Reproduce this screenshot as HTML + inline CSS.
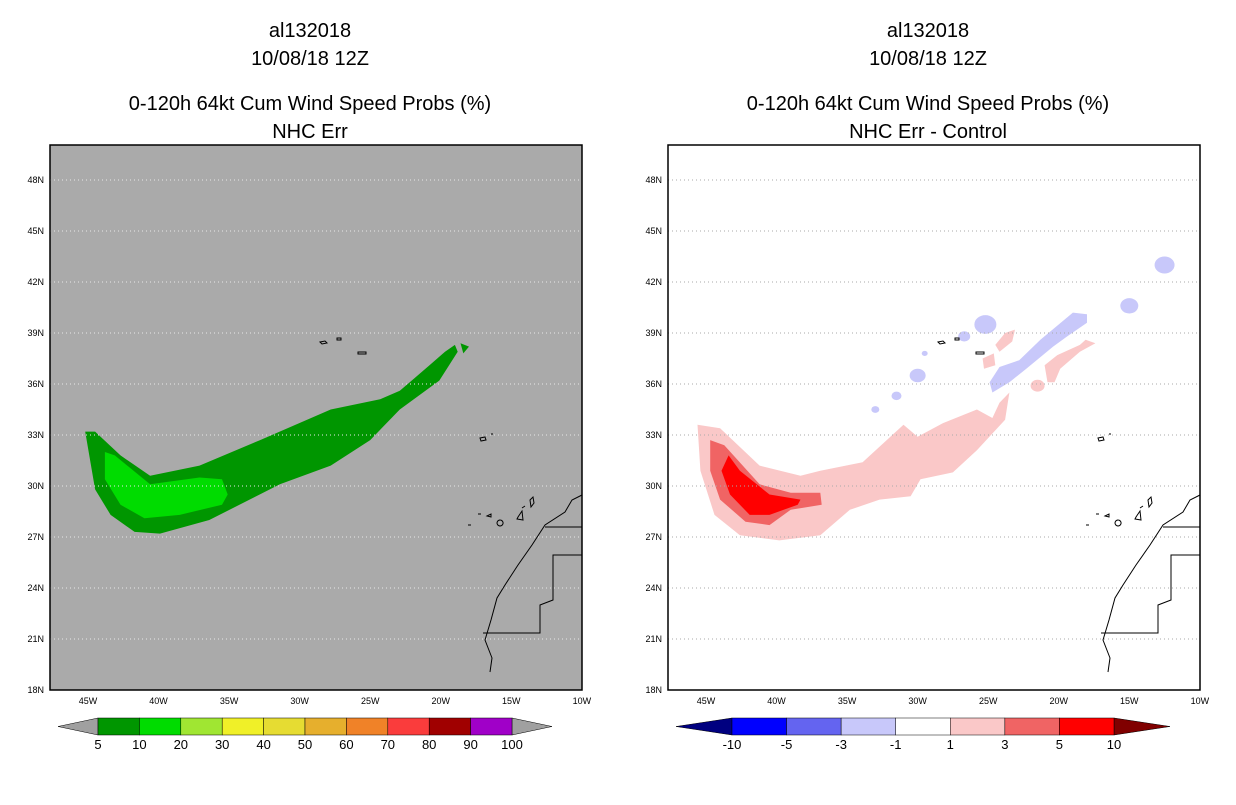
<!DOCTYPE html>
<html><head><meta charset="utf-8"><style>
body{margin:0;background:#fff;width:1236px;height:800px;overflow:hidden}
svg text{font-family:"Liberation Sans",sans-serif}
</style></head><body>
<svg id="s" width="1236" height="800" xmlns="http://www.w3.org/2000/svg">
<g font-size="20" text-anchor="middle" fill="#000">
<text x="310" y="37">al132018</text><text x="310" y="65">10/08/18 12Z</text>
<text x="310" y="110">0-120h 64kt Cum Wind Speed Probs (%)</text><text x="310" y="138">NHC Err</text></g>
<g font-size="20" text-anchor="middle" fill="#000">
<text x="928" y="37">al132018</text><text x="928" y="65">10/08/18 12Z</text>
<text x="928" y="110">0-120h 64kt Cum Wind Speed Probs (%)</text><text x="928" y="138">NHC Err - Control</text></g>
</svg>
<script>
const latTicks=[18,21,24,27,30,33,36,39,42,45,48];
const lonTicks=[-45,-40,-35,-30,-25,-20,-15,-10];
const leftLevels=["5","10","20","30","40","50","60","70","80","90","100"];
const leftColors=["#009600","#00dc00","#a0e632","#f0f028","#e6dc32","#e6af2d","#f08228","#fa3c3c","#a00000","#a000c8"];
const rightLevels=["-10","-5","-3","-1","1","3","5","10"];
const rightColors=["#0000ff","#6464f0","#c8c8fa","#ffffff","#fac8c8","#f06464","#ff0000"];
// probability contours (lon, lat)
const g5Lon=[-45.2,-44.5,-42.7,-40.6,-37.1,-32.8,-27.8,-24.3,-22.9,-20.8,-19.7,-19.0,-18.8,-20.1,-22.9,-25.0,-27.8,-31.4,-36.4,-39.9,-41.7,-43.4,-44.5];
const g5Lat=[33.2,33.2,31.8,30.6,31.2,32.7,34.5,35.1,35.6,37.1,37.9,38.3,37.9,36.2,34.5,32.7,31.2,30.1,28.0,27.2,27.3,28.3,29.8];
const g10Lon=[-43.8,-43.1,-40.6,-37.1,-35.5,-35.1,-35.5,-38.5,-41.0,-42.7,-43.8];
const g10Lat=[32.0,31.8,30.1,30.5,30.4,29.5,28.9,28.3,28.1,28.9,30.4];
const d1Lon=[-45.6,-44.0,-41.2,-38.3,-36.9,-33.9,-31.0,-30.0,-28.2,-25.8,-24.7,-24.2,-23.5,-23.8,-25.8,-27.5,-29.8,-30.5,-32.7,-34.8,-36.9,-39.8,-42.6,-44.4,-45.4];
const d1Lat=[33.6,33.4,31.2,30.6,30.9,31.4,33.6,32.9,33.7,34.5,34.0,34.9,35.5,33.9,32.1,30.8,30.4,29.4,29.2,28.6,27.1,26.8,27.1,28.3,30.9];
const d1bLon=[-20.8,-21.0,-20.1,-18.5,-18.1,-17.4,-18.5,-19.9,-20.3];
const d1bLat=[36.1,37.1,37.7,38.3,38.6,38.4,37.9,36.9,36.1];
const d1cLon=[-24.5,-23.8,-23.1,-23.3,-24.2];
const d1cLat=[38.3,39.0,39.2,38.5,37.9];
const d1dLon=[-25.4,-24.6,-24.5,-25.3];
const d1dLat=[37.5,37.8,37.1,36.9];
const d3Lon=[-44.7,-43.7,-41.2,-39.0,-36.9,-36.8,-39.0,-40.5,-42.2,-44.0,-44.7];
const d3Lat=[32.7,32.4,30.1,29.6,29.6,28.9,28.6,27.7,27.9,29.2,30.9];
const d5Lon=[-43.4,-42.6,-40.5,-38.3,-38.5,-40.5,-41.9,-43.3,-43.9];
const d5Lat=[31.8,30.9,29.5,29.2,28.9,28.3,28.3,29.5,30.9];
const nLon=[-24.9,-24.2,-22.8,-21.3,-19.0,-18.0,-18.0,-19.4,-20.4,-22.3,-23.5,-24.7];
const nLat=[36.1,37.0,37.4,38.6,40.2,40.1,39.6,38.8,38.2,36.9,36.1,35.5];
const blobLon=[-25.2,-30.0,-15.0,-12.5,-31.5,-33.0,-29.5,-26.7,-21.5];
const blobLat=[39.5,36.5,40.6,43.0,35.3,34.5,37.8,38.8,35.9];
const blobR=[0.55,0.4,0.45,0.5,0.25,0.2,0.15,0.3,0.35];
const blobC=["#c8c8fa","#c8c8fa","#c8c8fa","#c8c8fa","#c8c8fa","#c8c8fa","#c8c8fa","#c8c8fa","#fac8c8"];

const S=document.getElementById('s'),NS="http://www.w3.org/2000/svg";
function el(t,a,p){const e=document.createElementNS(NS,t);for(const k in a)e.setAttribute(k,a[k]);(p||S).appendChild(e);return e;}
function panel(ox){
 const X=lon=>ox+88+(lon+45)*14.11, Y=lat=>690-(lat-18)*17;
 return {X,Y};
}
function poly(P,lons,lats,fill,name,parent){
 const pts=lons.map((l,i)=>P.X(l).toFixed(1)+","+P.Y(lats[i]).toFixed(1)).join(" ");
 const e=el('polygon',{points:pts,fill:fill},parent);
 
 
}
function axes(P,ox,bg){
 const g=el('g',{});
 
 
 el('rect',{x:ox+50,y:145,width:532,height:545,fill:bg},g);
 return g;
}
function grid(P,ox,g,gc){
 latTicks.forEach(l=>{const y=P.Y(l);
  if(l>18)el('line',{x1:ox+50,x2:ox+582,y1:y,y2:y,stroke:gc,'stroke-dasharray':'1,3','stroke-width':1},g);
  const t=el('text',{x:ox+44,y:y+3,'font-size':9,'text-anchor':'end'},g);t.textContent=l+'N';
  });
 lonTicks.forEach(l=>{const x=P.X(l);
  if(l>-10)el('line',{x1:x,x2:x,y1:145,y2:690,stroke:gc,'stroke-dasharray':'1,3','stroke-width':1},g);
  const t=el('text',{x:x,y:704,'font-size':9,'text-anchor':'middle'},g);t.textContent=(-l)+'W';
  });
}
function land(ox,g){
 const c=el('g',{transform:`translate(${ox},0)`,fill:'none',stroke:'#000','stroke-width':1},g);
 
 el('path',{d:'M582,495 L572,500 L565,512 L545,525 L532,545 L518,565 L505,585 L497,598 L491,620 L485,640 L492,658 L490,672'},c);
 el('path',{d:'M545,527 L582,527 M582,555 L553,555 L553,600 L540,605 L540,633 L483,633'},c);
 el('path',{d:'M320,342 l5,-1 l2,2 l-5,1z M337,338 l4,0 l0,2 l-4,0z M358,352 l8,0 l0,2 l-8,0z M480,438 l5,-1 l1,3 l-5,1z M491,434 l2,0 M530,500 l3,-3 l1,6 l-3,4z M518,517 l4,-6 l1,9 l-6,-1z M500,520 a3,3 0 1,0 0.1,0 M487,516 l4,-2 l0,3z M478,514 l3,0 M468,525 l3,0 M522,508 l3,-2'},c);
}
// left panel
let P=panel(0),g=axes(P,0,'#aaaaaa');
poly(P,g5Lon,g5Lat,'#009600','prob-5-10-region',g);
el('polygon',{points:`${P.X(-18.6)},${P.Y(38.4)} ${P.X(-18.0)},${P.Y(38.2)} ${P.X(-18.4)},${P.Y(37.8)}`,fill:'#009600'},g);
poly(P,g10Lon,g10Lat,'#00dc00','prob-10-20-region',g);
grid(P,0,g,'#e8e8e8');land(0,g);
el('rect',{x:50,y:145,width:532,height:545,fill:'none',stroke:'#000','stroke-width':1.5},g);
// right panel
P=panel(618);g=axes(P,618,'#ffffff');
poly(P,d1Lon,d1Lat,'#fac8c8','diff-1-3-region',g);
poly(P,d1bLon,d1bLat,'#fac8c8','diff-1-3-strip',g);
poly(P,d1cLon,d1cLat,'#fac8c8','diff-1-3-patch',g);
poly(P,d1dLon,d1dLat,'#fac8c8','diff-1-3-patch',g);
poly(P,d3Lon,d3Lat,'#f06464','diff-3-5-region',g);
poly(P,d5Lon,d5Lat,'#ff0000','diff-5-10-region',g);
poly(P,nLon,nLat,'#c8c8fa','diff-neg-region',g);
blobLon.forEach((l,i)=>{const e=el('ellipse',{cx:P.X(l),cy:P.Y(blobLat[i]),rx:blobR[i]*20,ry:blobR[i]*17,fill:blobC[i]},g);
 });
grid(P,618,g,'#aaaaaa');land(618,g);
el('rect',{x:668,y:145,width:532,height:545,fill:'none',stroke:'#000','stroke-width':1.5},g);
// colorbars
function cbar(x0,x1,b0,b1,levels,colors,arrowL,arrowR,name){
 const g=el('g',{});
 const yt=718,yb=735,ym=726.5,w=(b1-b0)/colors.length;
 el('polygon',{points:`${x0},${ym} ${b0},${yt} ${b0},${yb}`,fill:arrowL,stroke:'#000','stroke-width':0.5},g);
 el('polygon',{points:`${x1},${ym} ${b1},${yt} ${b1},${yb}`,fill:arrowR,stroke:'#000','stroke-width':0.5},g);
 colors.forEach((c,i)=>el('rect',{x:b0+i*w,y:yt,width:w,height:yb-yt,fill:c,stroke:'#000','stroke-width':0.5},g));
 levels.forEach((l,i)=>{const t=el('text',{x:b0+i*w,y:749,'font-size':13,'text-anchor':'middle'},g);t.textContent=l;
  });
}
cbar(58,552,98,512,leftLevels,leftColors,'#a0a0a0','#a0a0a0','left-colorbar');
cbar(676,1170,732,1114,rightLevels,rightColors,'#000080','#800000','right-colorbar');
</script>
</body></html>
